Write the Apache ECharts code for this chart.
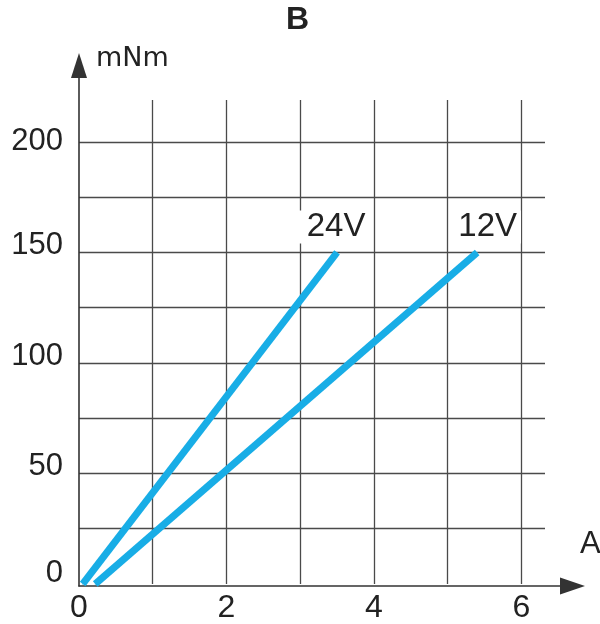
<!DOCTYPE html>
<html>
<head>
<meta charset="utf-8">
<script src="https://cdn.jsdelivr.net/npm/echarts@6/dist/echarts.min.js"></script>
<style>
html,body{margin:0;padding:0;background:#fff;}
#c{width:600px;height:624px;}
</style>
</head>
<body>
<div id="c"></div>
<script>
// Data
const seriesNames = ['24V', '12V'];
const current24V = [0.05, 3.5];   // A
const torque24V  = [0, 150];      // mNm
const current12V = [0.22, 5.4];   // A
const torque12V  = [0, 150];      // mNm
const xTickLabels = [0, 2, 4, 6];
const yTickLabels = [0, 50, 100, 150, 200];
const xGridMax = 6.32, yGridMax = 219;
const xStep = 1, yStep = 25;

const FONT = "'Liberation Sans', Arial, Helvetica, sans-serif";
const BLUE = '#18ade6';
const AXIS = '#333';
const GRID = '#4a4a4a';

// small upward nudges of y tick labels, as drawn in the reference
const yLabelLift = {0: 11, 50: 7, 100: 7, 150: 7, 200: 1};
const yRich = {};
yTickLabels.forEach(v => {
  yRich['t' + v] = {fontFamily: FONT, fontSize: 31, color: '#222', padding: [0, 0, 2 * (yLabelLift[v] || 0), 0]};
});

function pairs(xs, ys){ return xs.map((x,i)=>[x, ys[i]]); }
function withEndLabel(arr, text, offX){
  const d = arr.slice(0, -1);
  d.push({value: arr[arr.length-1], label: {
    show: true, formatter: text, position: 'top', distance: 8.5, offset: [offX, 0],
    fontFamily: FONT, fontSize: 33, lineHeight: 33, color: '#222',
    backgroundColor: '#fff', padding: [0, 4, 0, 8]
  }});
  return d;
}

const chart = echarts.init(document.getElementById('c'), null, {renderer: 'canvas'});
chart.setOption({
  animation: false,
  backgroundColor: '#fff',
  grid: [
    {left: 79, right: 55, top: 100, bottom: 38},
    {left: 79, right: 27.5, top: 65.5, bottom: 38}
  ],
  xAxis: [
    {
      type: 'value', gridIndex: 0, min: 0, max: xGridMax, interval: xStep,
      axisLine: {show: false}, axisTick: {show: false},
      splitLine: {show: true, showMinLine: false, showMaxLine: false, lineStyle: {color: GRID, width: 1.3}},
      axisLabel: {
        show: true, margin: 8, fontFamily: FONT, fontSize: 32, color: '#222',
        showMaxLabel: false,
        formatter: v => xTickLabels.indexOf(v) >= 0 ? String(v) : ''
      }
    },
    {
      type: 'value', gridIndex: 1, min: 0, max: 1,
      axisLine: {show: true, symbol: ['none', 'triangle'], symbolSize: [17, 25], lineStyle: {color: AXIS, width: 1.6}},
      axisTick: {show: false}, axisLabel: {show: false}, splitLine: {show: false}
    }
  ],
  yAxis: [
    {
      type: 'value', gridIndex: 0, min: 0, max: yGridMax, interval: yStep,
      axisLine: {show: false}, axisTick: {show: false},
      splitLine: {show: true, showMinLine: false, showMaxLine: false, lineStyle: {color: GRID, width: 1.3}},
      axisLabel: {
        show: true, margin: 16, fontFamily: FONT, fontSize: 31, color: '#222',
        showMaxLabel: false,
        rich: yRich,
        formatter: v => yTickLabels.indexOf(v) >= 0 ? '{t' + v + '|' + v + '}' : ''
      }
    },
    {
      type: 'value', gridIndex: 1, min: 0, max: 1,
      axisLine: {show: true, symbol: ['none', 'triangle'], symbolSize: [16, 25], lineStyle: {color: AXIS, width: 1.6}},
      axisTick: {show: false}, axisLabel: {show: false}, splitLine: {show: false}
    }
  ],
  graphic: [
    {type: 'text', left: 286, top: 4, style: {text: 'B', font: "bold 32px " + FONT, fill: '#222'}},
    {type: 'text', left: 96, top: 45, style: {text: 'mNm', font: "27px 'DejaVu Sans', sans-serif", fill: '#222'}},
    {type: 'text', left: 580, top: 529, style: {text: 'A', font: "31px " + FONT, fill: '#222'}}
  ],
  series: [
    {
      name: seriesNames[0], type: 'line', xAxisIndex: 0, yAxisIndex: 0,
      data: withEndLabel(pairs(current24V, torque24V), seriesNames[0], -3),
      symbol: 'circle', symbolSize: 1, showSymbol: true,
      itemStyle: {color: BLUE},
      lineStyle: {color: BLUE, width: 7, cap: 'butt'},
      z: 5
    },
    {
      name: seriesNames[1], type: 'line', xAxisIndex: 0, yAxisIndex: 0,
      data: withEndLabel(pairs(current12V, torque12V), seriesNames[1], 8.5),
      symbol: 'circle', symbolSize: 1, showSymbol: true,
      itemStyle: {color: BLUE},
      lineStyle: {color: BLUE, width: 7, cap: 'butt'},
      z: 5
    }
  ]
});
</script>
</body>
</html>
